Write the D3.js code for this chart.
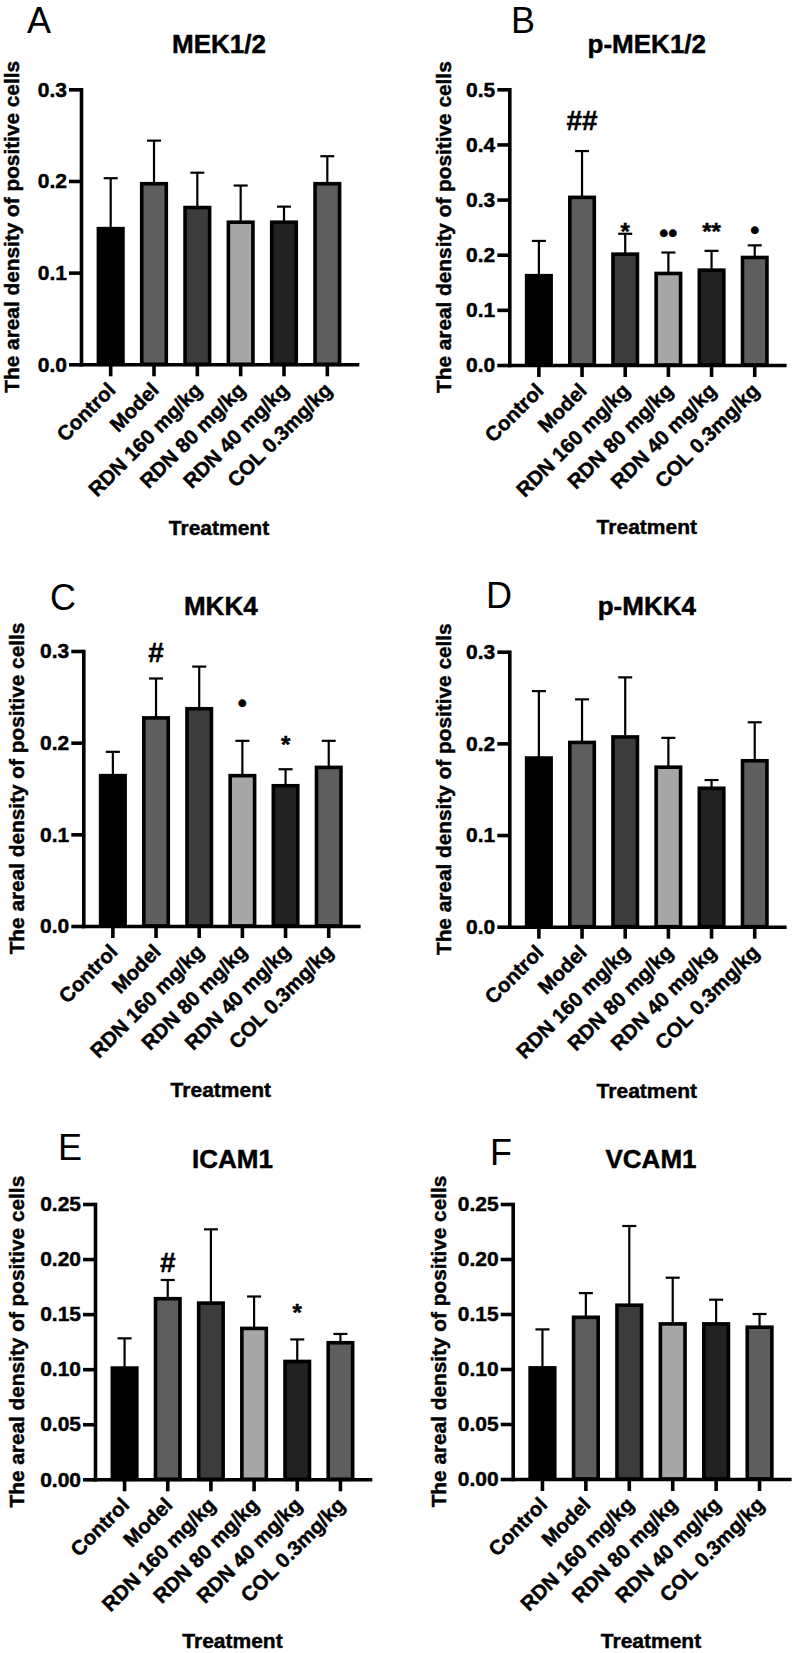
<!DOCTYPE html>
<html>
<head>
<meta charset="utf-8">
<script src="https://cdn.jsdelivr.net/npm/d3@7"></script>
<style>
  html, body { margin: 0; padding: 0; background: #fff; }
  svg { display: block; }
</style>
</head>
<body>
<svg id="chart" width="792" height="1653"></svg>
<script>
// ---------- DATA ----------
const categories = ["Control", "Model", "RDN 160 mg/kg", "RDN 80 mg/kg", "RDN 40 mg/kg", "COL 0.3mg/kg"];

const meanMEK = [0.148, 0.197, 0.171, 0.155, 0.155, 0.197];
const sdMEK   = [0.055, 0.047, 0.038, 0.040, 0.017, 0.030];

const meanPMEK = [0.162, 0.304, 0.201, 0.166, 0.172, 0.195];
const sdPMEK   = [0.063, 0.084, 0.037, 0.038, 0.035, 0.022];
const markPMEK = ["", "##", "*", "\u2022\u2022", "**", "\u2022"];
const markPMEKAt = [null, 0.426, 0.227, 0.223, 0.226, 0.2285];

const meanMKK4 = [0.164, 0.227, 0.237, 0.164, 0.153, 0.173];
const sdMKK4   = [0.026, 0.043, 0.046, 0.038, 0.018, 0.029];
const markMKK4 = ["", "#", "", "\u2022", "*", ""];
const markMKK4At = [null, 0.2885, null, 0.234, 0.1885, null];

const meanPMKK4 = [0.184, 0.201, 0.207, 0.174, 0.151, 0.181];
const sdPMKK4   = [0.073, 0.047, 0.065, 0.032, 0.009, 0.042];

const meanICAM1 = [0.101, 0.164, 0.160, 0.137, 0.107, 0.124];
const sdICAM1   = [0.027, 0.017, 0.067, 0.029, 0.020, 0.008];
const markICAM1 = ["", "#", "", "", "*", ""];
const markICAM1At = [null, 0.1885, null, null, 0.1442, null];

const meanVCAM1 = [0.101, 0.147, 0.158, 0.141, 0.141, 0.138];
const sdVCAM1   = [0.035, 0.022, 0.072, 0.042, 0.022, 0.012];

const ticks03  = [0, 0.1, 0.2, 0.3];
const ticks05  = [0, 0.1, 0.2, 0.3, 0.4, 0.5];
const ticks025 = [0, 0.05, 0.10, 0.15, 0.20, 0.25];

const barColors = ["#000000", "#5e5e5e", "#3c3c3c", "#a6a6a6", "#222222", "#5e5e5e"];

const yTitle = "The areal density of positive cells";
const xTitle = "Treatment";

// ---------- PANELS ----------
const panels = [
  { letter: "A", title: "MEK1/2",   mean: meanMEK,   sd: sdMEK,   ticks: ticks03,  fmt: ".1f",
    L: 81,    R: 357,   T: 89.3,  B: 364.3,  lx: 27,  ly: 33,   ty: 53,   yx: 18.5, tx: 535 },
  { letter: "B", title: "p-MEK1/2", mean: meanPMEK,  sd: sdPMEK,  ticks: ticks05,  fmt: ".1f", marks: markPMEK, marksAt: markPMEKAt,
    L: 509.3, R: 784.3, T: 89.3,  B: 365,    lx: 511, ly: 33,   ty: 53,   yx: 451,  tx: 533.5 },
  { letter: "C", title: "MKK4",     mean: meanMKK4,  sd: sdMKK4,  ticks: ticks03,  fmt: ".1f", marks: markMKK4, marksAt: markMKK4At,
    L: 83.3,  R: 358.3, T: 651,   B: 926,    lx: 50,  ly: 610,  ty: 615,  yx: 23.5, tx: 1096.7 },
  { letter: "D", title: "p-MKK4",   mean: meanPMKK4, sd: sdPMKK4, ticks: ticks03,  fmt: ".1f",
    L: 509.3, R: 784.3, T: 651.7, B: 926.7,  lx: 486, ly: 608,  ty: 615,  yx: 451,  tx: 1098 },
  { letter: "E", title: "ICAM1",    mean: meanICAM1, sd: sdICAM1, ticks: ticks025, fmt: ".2f", marks: markICAM1, marksAt: markICAM1At,
    L: 95,    R: 370,   T: 1204,  B: 1479.3, lx: 58,  ly: 1160, ty: 1168, yx: 23.5, tx: 1647.5 },
  { letter: "F", title: "VCAM1",    mean: meanVCAM1, sd: sdVCAM1, ticks: ticks025, fmt: ".2f",
    L: 512.7, R: 789.3, T: 1204,  B: 1479,   lx: 490, ly: 1165, ty: 1168, yx: 446,  tx: 1647.5 }
];

const FONT = "'Liberation Sans', Arial, Helvetica, sans-serif";
const SW = 3.6;    // bar / axis stroke
const TS = 0.45;   // text stroke to emulate heavier bold
const svg = d3.select("#chart");
svg.append("rect").attr("width", 792).attr("height", 1653).attr("fill", "#fff");

function boldText(sel, size) {
  return sel.attr("font-family", FONT).attr("font-weight", "bold").attr("font-size", size)
    .attr("fill", "#000").attr("stroke", "#000").attr("stroke-width", TS);
}

panels.forEach(p => {
  const g = svg.append("g");
  const yMax = p.ticks[p.ticks.length - 1];
  const y = d3.scaleLinear().domain([0, yMax]).range([p.B, p.T]);
  const x = d3.scaleBand().domain(categories).range([p.L, p.R]).paddingInner(0.35).paddingOuter(0.36);
  const bw = x.bandwidth();
  const cx = c => x(c) + bw / 2;

  // bars
  g.selectAll("rect.bar").data(categories).join("rect")
    .attr("class", "bar")
    .attr("x", c => x(c) + SW / 2)
    .attr("width", bw - SW)
    .attr("y", (c, i) => y(p.mean[i]))
    .attr("height", (c, i) => y(0) - y(p.mean[i]))
    .attr("fill", (c, i) => barColors[i])
    .attr("stroke", "#000")
    .attr("stroke-width", SW);

  // error bars (upper only)
  const capW = 7;
  categories.forEach((c, i) => {
    const top = y(p.mean[i] + p.sd[i]);
    const base = y(p.mean[i]);
    g.append("line").attr("x1", cx(c)).attr("x2", cx(c)).attr("y1", base).attr("y2", top)
      .attr("stroke", "#000").attr("stroke-width", 2.2);
    g.append("line").attr("x1", cx(c) - capW).attr("x2", cx(c) + capW).attr("y1", top).attr("y2", top)
      .attr("stroke", "#000").attr("stroke-width", 2.2);
  });

  // significance marks
  if (p.marks) {
    p.marks.forEach((m, i) => {
      if (!m) return;
      const isBullet = m.indexOf("\u2022") >= 0;
      const isStar = m.indexOf("*") >= 0;
      boldText(g.append("text"), isBullet ? 26 : (isStar ? 24 : 28))
        .attr("x", cx(categories[i]))
        .attr("y", y(p.marksAt[i]))
        .attr("text-anchor", "middle")
        .text(m);
    });
  }

  // y axis
  const ya = g.append("g").attr("transform", `translate(${p.L},0)`)
    .call(d3.axisLeft(y).tickValues(p.ticks).tickFormat(d3.format(p.fmt)).tickSize(12).tickSizeOuter(0).tickPadding(2));
  ya.selectAll("path.domain").attr("stroke-width", SW).attr("stroke-linecap", "square");
  ya.selectAll(".tick line").attr("stroke-width", SW);
  boldText(ya.selectAll("text"), 21);
  ya.attr("font-size", null).attr("font-family", null);

  // x axis
  const xa = g.append("g").attr("transform", `translate(0,${p.B})`)
    .call(d3.axisBottom(x).tickSize(12).tickSizeOuter(0));
  xa.selectAll("path.domain").attr("stroke-width", SW).attr("stroke-linecap", "square");
  xa.selectAll(".tick line").attr("stroke-width", SW);
  boldText(xa.selectAll("text"), 20.5)
    .attr("x", 0).attr("y", 0).attr("dy", 0)
    .attr("transform", "translate(6,27) rotate(-45)")
    .attr("text-anchor", "end");
  xa.attr("font-size", null).attr("font-family", null);

  // panel letter
  g.append("text").attr("x", p.lx).attr("y", p.ly)
    .attr("font-family", FONT).attr("font-size", 36).attr("fill", "#000").text(p.letter);

  // title
  boldText(g.append("text"), 26).attr("x", (p.L + p.R) / 2).attr("y", p.ty).attr("text-anchor", "middle")
    .text(p.title);

  // y title
  boldText(g.append("text"), 20.8).attr("transform", `translate(${p.yx},${(p.T + p.B) / 2}) rotate(-90)`)
    .attr("text-anchor", "middle").text(yTitle);

  // x title
  boldText(g.append("text"), 21).attr("x", (p.L + p.R) / 2).attr("y", p.tx).attr("text-anchor", "middle")
    .text(xTitle);
});
</script>
</body>
</html>
